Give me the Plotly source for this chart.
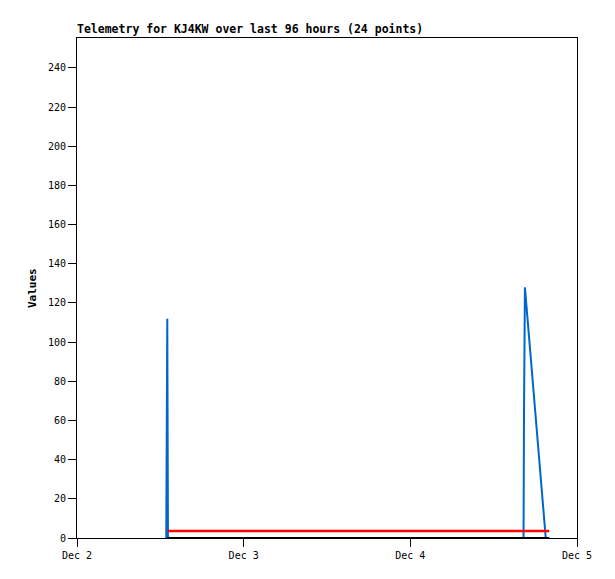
import plotly.graph_objects as go
from datetime import datetime, timedelta

# Data (hours after Dec 2 00:00)
base = datetime(2023, 12, 2)
hours = [12.85, 12.9, 13.0, 13.1, 64.3, 64.37, 64.5, 67.5, 68.0]
blue_vals = [0, 56, 112, 0, 0, 64, 128, 0, 0]
red_hours = [13.04, 64.3, 68.0]
red_vals = [3.6, 3.6, 3.6]
black_hours = [13.04, 64.3, 68.0]
black_vals = [0, 0, 0]
tick_dates = ["2023-12-02", "2023-12-03", "2023-12-04", "2023-12-05"]
tick_labels = ["Dec 2", "Dec 3", "Dec 4", "Dec 5"]
y_ticks = list(range(0, 241, 20))

def to_dt(hs):
    return [base + timedelta(hours=h) for h in hs]

fig = go.Figure()
fig.add_trace(go.Scatter(x=to_dt(hours), y=blue_vals, mode="lines",
                         line=dict(color="#0066cc", width=2), showlegend=False))
fig.add_trace(go.Scatter(x=to_dt(black_hours), y=black_vals, mode="lines",
                         line=dict(color="#000000", width=2), showlegend=False))
fig.add_trace(go.Scatter(x=to_dt(red_hours), y=red_vals, mode="lines",
                         line=dict(color="#ff0000", width=2.5), showlegend=False))

font_family = "DejaVu Sans Mono"
fig.update_layout(
    width=607, height=571,
    margin=dict(l=69, r=38, t=30, b=41),
    paper_bgcolor="white", plot_bgcolor="white",
    font=dict(family=font_family, size=10, color="black"),
    xaxis=dict(type="date", range=[tick_dates[0], tick_dates[-1]],
               tickvals=tick_dates, ticktext=tick_labels,
               showgrid=False, zeroline=False,
               showline=True, linecolor="black", linewidth=1, mirror=True,
               ticks="outside", ticklen=8, tickcolor="black"),
    yaxis=dict(range=[0, 255.3], tickvals=y_ticks,
               showgrid=False, zeroline=False,
               showline=True, linecolor="black", linewidth=1, mirror=True,
               ticks="outside", ticklen=8, tickcolor="black"),
    annotations=[
        dict(text="<b>Telemetry for KJ4KW over last 96 hours (24 points)</b>",
             xref="paper", yref="paper", x=0, y=1, xanchor="left", yanchor="bottom",
             xshift=-2, showarrow=False,
             font=dict(family=font_family, size=11.5, color="black")),
        dict(text="<b>Values</b>", xref="paper", yref="paper", x=-0.09, y=0.5,
             xanchor="center", yanchor="middle", textangle=-90, showarrow=False,
             font=dict(family=font_family, size=11, color="black")),
    ],
)

fig.write_html("out.html")
